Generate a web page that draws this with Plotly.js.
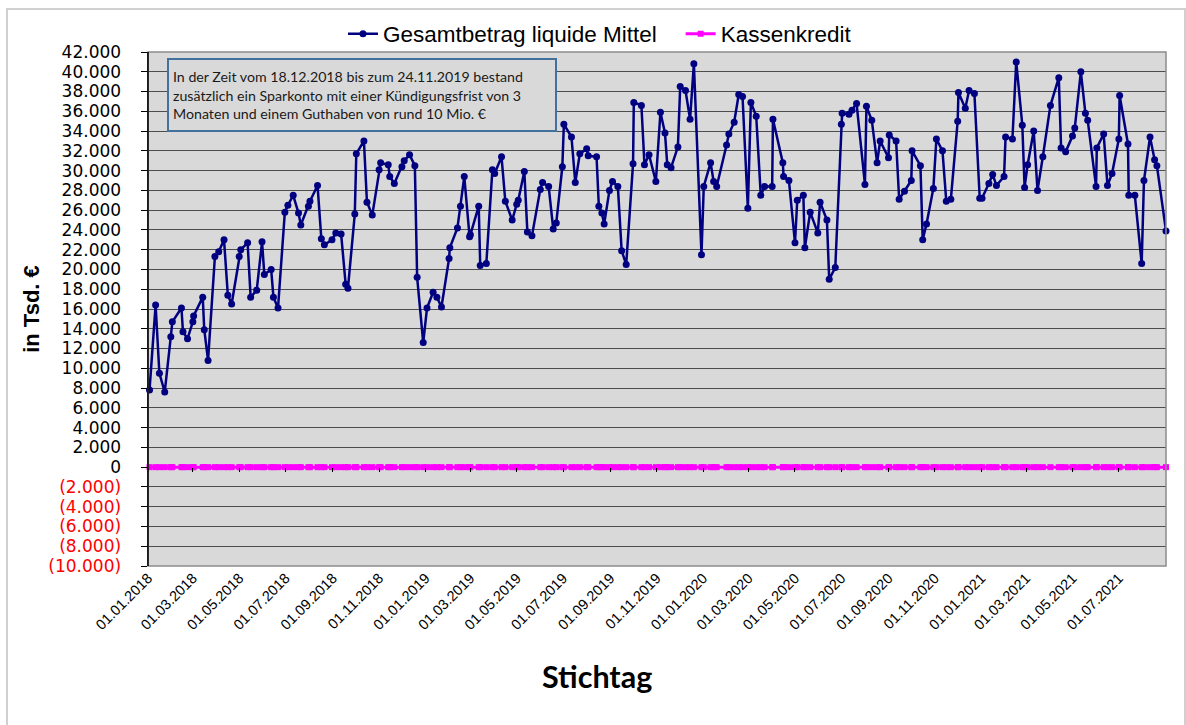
<!DOCTYPE html>
<html>
<head>
<meta charset="utf-8">
<script src="https://cdn.plot.ly/plotly-3.0.1.min.js"></script>
<style>
  html, body { margin: 0; padding: 0; background: #ffffff; }
  #chart { width: 1186px; height: 725px; }
</style>
</head>
<body>
<div id="chart"></div>
<script>
// ---- data ----
const stichtage = [
  '2018-01-03','2018-01-11','2018-01-16','2018-01-23','2018-01-31','2018-02-02','2018-02-14','2018-02-16','2018-02-22','2018-03-01',
  '2018-03-02','2018-03-14','2018-03-16','2018-03-21','2018-03-30','2018-04-04','2018-04-11','2018-04-16','2018-04-21','2018-05-01',
  '2018-05-03','2018-05-12','2018-05-16','2018-05-24','2018-05-31','2018-06-03','2018-06-12','2018-06-15','2018-06-21','2018-06-30',
  '2018-07-04','2018-07-11','2018-07-18','2018-07-21','2018-07-31','2018-08-02','2018-08-12','2018-08-17','2018-08-21','2018-08-31',
  '2018-09-05','2018-09-12','2018-09-18','2018-09-21','2018-09-30','2018-10-02','2018-10-12','2018-10-16','2018-10-23','2018-11-01',
  '2018-11-03','2018-11-13','2018-11-15','2018-11-21','2018-12-01','2018-12-04','2018-12-11','2018-12-18','2018-12-21','2018-12-29',
  '2019-01-03','2019-01-11','2019-01-16','2019-01-22','2019-02-01','2019-02-02','2019-02-12','2019-02-16','2019-02-21','2019-02-28',
  '2019-03-01','2019-03-12','2019-03-14','2019-03-22','2019-03-30','2019-04-02','2019-04-11','2019-04-16','2019-04-25','2019-05-01',
  '2019-05-03','2019-05-11','2019-05-15','2019-05-21','2019-06-01','2019-06-04','2019-06-12','2019-06-18','2019-06-22','2019-06-30',
  '2019-07-02','2019-07-12','2019-07-17','2019-07-23','2019-08-01','2019-08-03','2019-08-14','2019-08-17','2019-08-21','2019-08-24',
  '2019-08-31','2019-09-04','2019-09-11','2019-09-16','2019-09-22','2019-10-01','2019-10-02','2019-10-12','2019-10-16','2019-10-22',
  '2019-10-31','2019-11-06','2019-11-12','2019-11-15','2019-11-20','2019-11-29','2019-12-02','2019-12-09','2019-12-15','2019-12-20',
  '2019-12-30','2020-01-02','2020-01-11','2020-01-15','2020-01-19','2020-02-01','2020-02-04','2020-02-11','2020-02-17','2020-02-22',
  '2020-02-29','2020-03-04','2020-03-11','2020-03-17','2020-03-22','2020-04-01','2020-04-02','2020-04-15','2020-04-16','2020-04-23',
  '2020-05-01','2020-05-04','2020-05-12','2020-05-14','2020-05-21','2020-05-31','2020-06-03','2020-06-12','2020-06-15','2020-06-23',
  '2020-07-01','2020-07-02','2020-07-11','2020-07-15','2020-07-21','2020-08-01','2020-08-03','2020-08-10','2020-08-17','2020-08-21',
  '2020-09-01','2020-09-02','2020-09-11','2020-09-15','2020-09-22','2020-10-01','2020-10-02','2020-10-13','2020-10-16','2020-10-21',
  '2020-10-30','2020-11-03','2020-11-11','2020-11-16','2020-11-22','2020-12-01','2020-12-02','2020-12-11','2020-12-16','2020-12-23',
  '2020-12-30','2021-01-02','2021-01-11','2021-01-16','2021-01-21','2021-01-31','2021-02-02','2021-02-11','2021-02-16','2021-02-24',
  '2021-02-27','2021-03-03','2021-03-11','2021-03-16','2021-03-23','2021-04-02','2021-04-13','2021-04-16','2021-04-22','2021-05-01',
  '2021-05-04','2021-05-12','2021-05-18','2021-05-21','2021-06-01','2021-06-02','2021-06-11','2021-06-16','2021-06-22','2021-07-01',
  '2021-07-02','2021-07-13','2021-07-14','2021-07-22','2021-07-31','2021-08-03','2021-08-11','2021-08-17','2021-08-20','2021-09-01'
];

const liquideMittel = [
  7800,16400,9500,7600,13200,14700,16100,13700,13000,14700,
  15300,17200,13900,10800,21300,21800,23000,17400,16500,21300,
  22000,22700,17200,17900,22800,19500,20000,17200,16100,25800,
  26500,27500,25700,24500,26400,26900,28500,23100,22500,23000,
  23700,23600,18500,18100,25600,31700,33000,26800,25500,30100,
  30800,30600,29400,28700,30400,31000,31600,30500,19200,12600,
  16100,17700,17200,16200,21100,22200,24200,26400,29400,23300,
  23500,26400,20400,20600,30100,29700,31400,26900,25000,26600,
  27000,29900,23800,23400,28100,28800,28400,24100,24700,30400,
  34700,33400,28800,31700,32200,31500,31400,26400,25700,24600,
  28000,28900,28400,21900,20500,30700,36900,36600,30600,31600,
  28900,35900,33800,30600,30300,32400,38500,38100,35200,40800,
  21500,28400,30800,28900,28400,32600,33700,34900,37700,37500,
  26200,36900,35500,27500,28400,28400,35200,30800,29400,29000,
  22700,27000,27500,22200,25800,23700,26800,25000,19000,20200,
  34700,35800,35700,36100,36800,28600,36500,35100,30800,33000,
  31300,33600,33000,27100,27900,29000,32000,30500,23000,24600,
  28200,33200,32000,26900,27100,35000,37900,36300,38100,37800,
  27200,27200,28700,29600,28500,29400,33400,33200,41000,34600,
  28300,30600,34000,28000,31400,36600,39400,32300,31900,33500,
  34300,40000,35800,35100,28400,32300,33700,28500,29700,33200,
  37600,32700,27500,27500,20600,29000,33400,31100,30500,23900
];

// Kassenkredit: not drawn on at any Stichtag (value 0 throughout)
const kassenkredit = stichtage.map(() => 0);

const seriesNames = ['Gesamtbetrag liquide Mittel', 'Kassenkredit'];

const xTickLabels = [
  '01.01.2018','01.03.2018','01.05.2018','01.07.2018','01.09.2018','01.11.2018',
  '01.01.2019','01.03.2019','01.05.2019','01.07.2019','01.09.2019','01.11.2019',
  '01.01.2020','01.03.2020','01.05.2020','01.07.2020','01.09.2020','01.11.2020',
  '01.01.2021','01.03.2021','01.05.2021','01.07.2021'
];

const yTickVals = [-10000,-8000,-6000,-4000,-2000,0,2000,4000,6000,8000,10000,12000,14000,
  16000,18000,20000,22000,24000,26000,28000,30000,32000,34000,36000,38000,40000,42000];
const yTickLabels = ['(10.000)','(8.000)','(6.000)','(4.000)','(2.000)','0','2.000','4.000','6.000','8.000',
  '10.000','12.000','14.000','16.000','18.000','20.000','22.000','24.000','26.000','28.000','30.000',
  '32.000','34.000','36.000','38.000','40.000','42.000'];

const noteText = 'In der Zeit vom 18.12.2018 bis zum 24.11.2019 bestand<br>' +
  'zusätzlich ein Sparkonto mit einer Kündigungsfrist von 3<br>' +
  'Monaten und einem Guthaben von rund 10 Mio. €';

// ---- helpers ----
const toIso = s => { const p = s.split('.'); return p[2] + '-' + p[1] + '-' + p[0]; };
const xTickVals = xTickLabels.map(toIso);
const yTickText = yTickLabels.map((t, i) =>
  yTickVals[i] < 0 ? '<span style="fill:#ff0000">' + t + '</span>' : t);

const axisFont = 'Liberation Sans, Arial, sans-serif';
const wideFont = 'DejaVu Sans, Liberation Sans, sans-serif';
const legendGap = '\u00a0\u00a0\u00a0';

const traces = [
  {
    x: stichtage, y: liquideMittel, name: seriesNames[0] + legendGap,
    type: 'scatter', mode: 'lines+markers',
    line: { color: '#000080', width: 2.5 },
    marker: { color: '#000080', size: 7, symbol: 'circle' },
    cliponaxis: false
  },
  {
    x: stichtage, y: kassenkredit, name: seriesNames[1],
    type: 'scatter', mode: 'lines+markers',
    line: { color: '#ff00ff', width: 3 },
    marker: { color: '#ff00ff', size: 6, symbol: 'square' },
    cliponaxis: false
  },
  { // invisible helper to carry tick marks on the zero line
    x: [xTickVals[0]], y: [0], xaxis: 'x2', yaxis: 'y',
    mode: 'markers', marker: { opacity: 0 }, showlegend: false, hoverinfo: 'skip'
  }
];

const layout = {
  width: 1186, height: 725,
  paper_bgcolor: '#ffffff',
  plot_bgcolor: '#d9d9d9',
  margin: { l: 148, r: 20, t: 52, b: 159 },
  showlegend: true,
  legend: {
    orientation: 'h', x: 0.444, xanchor: 'center', y: 1.035, yanchor: 'middle',
    font: { family: axisFont, size: 22.5, color: '#000000' },
    bgcolor: 'rgba(0,0,0,0)', itemwidth: 30
  },
  xaxis: {
    type: 'date',
    range: ['2018-01-01', '2021-09-01'],
    tickmode: 'array', tickvals: xTickVals, ticktext: xTickLabels,
    tickangle: -45,
    tickfont: { family: axisFont, size: 14.5, color: '#000000' },
    ticks: '', showgrid: false, zeroline: false,
    showline: false
  },
  xaxis2: {
    type: 'date', overlaying: 'x', matches: 'x',
    anchor: 'free', position: 10000 / 52000, side: 'bottom',
    tickmode: 'array', tickvals: xTickVals,
    showticklabels: false, ticks: 'outside', ticklen: 4, tickcolor: '#000000',
    showgrid: false, zeroline: false, showline: false
  },
  yaxis: {
    range: [-10000, 42000],
    tickmode: 'array', tickvals: yTickVals, ticktext: yTickText,
    tickfont: { family: wideFont, size: 17, color: '#000000' },
    ticks: 'outside', ticklen: 6, tickcolor: '#000000', ticklabelstandoff: 16,
    showgrid: true, gridcolor: '#4d4d4d', gridwidth: 1,
    zeroline: false,
    showline: true, linecolor: '#000000', linewidth: 1.5,
    title: { text: 'in Tsd. €', font: { family: axisFont, size: 22, color: '#000000', weight: 'bold' }, standoff: 2 }
  },
  shapes: [
    { type: 'rect', xref: 'paper', yref: 'paper', x0: 0, x1: 1, y0: 0, y1: 1,
      line: { color: '#8c8c8c', width: 1.5 }, fillcolor: 'rgba(0,0,0,0)', layer: 'above' },
    { type: 'line', xref: 'paper', yref: 'paper', x0: 0, x1: 0, y0: 0, y1: 1,
      line: { color: '#000000', width: 1.5 }, layer: 'above' },
    { type: 'rect', xref: 'paper', yref: 'paper',
      x0: (7 - 148) / 1018, x1: (1185 - 148) / 1018, y0: (566 - 740) / 514, y1: (566 - 9) / 514,
      line: { color: '#d0d0d0', width: 2 }, fillcolor: 'rgba(0,0,0,0)', layer: 'below' }
  ],
  annotations: [
    {
      xref: 'paper', yref: 'paper', x: (167 - 148) / 1018, y: (566 - 58) / 514,
      xanchor: 'left', yanchor: 'top', showarrow: false,
      text: noteText, align: 'left', valign: 'middle',
      width: 378, height: 62, borderpad: 4,
      bgcolor: '#d9d9d9', bordercolor: '#41719c', borderwidth: 2,
      font: { family: 'Lato, Open Sans, sans-serif', size: 14.2, color: '#1a1a1a' }
    },
    {
      xref: 'paper', yref: 'paper', x: (597 - 148) / 1018, y: (566 - 676) / 514,
      xanchor: 'center', yanchor: 'middle', showarrow: false,
      text: '<b>Stichtag</b>',
      font: { family: 'Lato, Open Sans, sans-serif', size: 30.5, color: '#000000' }
    }
  ]
};

Plotly.newPlot('chart', traces, layout, { staticPlot: true, displayModeBar: false });
</script>
</body>
</html>
